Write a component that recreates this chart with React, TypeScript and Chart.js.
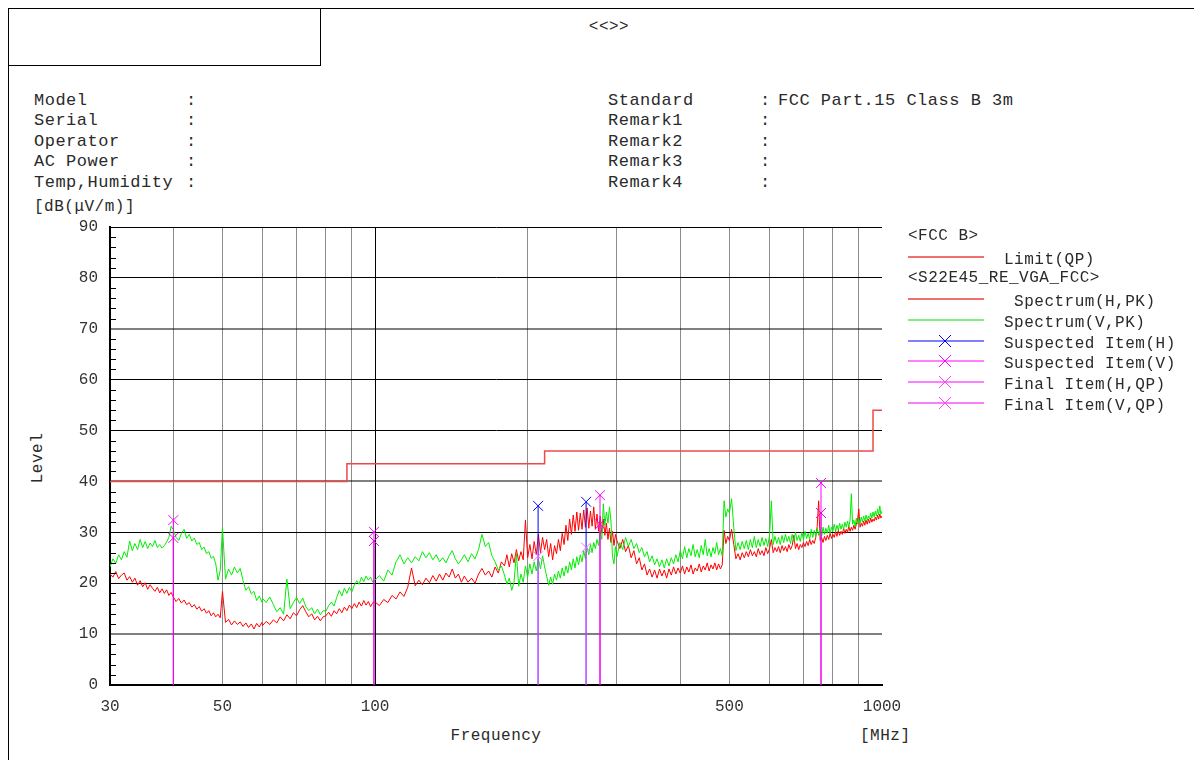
import React, { useEffect, useRef } from 'react';
import { Chart, registerables } from 'chart.js';

Chart.register(...registerables);

const FONT = '"Liberation Mono", "DejaVu Sans Mono", monospace';

// ---------- axis values ----------
const xGridValues = [30, 40, 50, 60, 70, 80, 90, 100, 200, 300, 400, 500, 600, 700, 800, 900, 1000];
const xLabelValues = [30, 50, 100, 500, 1000];
const yMin = 0;
const yMax = 90;
const yStep = 10;

// ---------- limit (FCC Part.15 Class B 3m, QP) ----------
const limitStartFreq = [30, 88, 216, 960];
const limitLevel = [40, 43.5, 46, 54];
const limitEndFreq = 1000;

// ---------- spectrum ----------
const freqMHz = [
  30, 30.4, 30.8, 31.2, 31.6, 32, 32.4, 32.8, 33.2, 33.6, 34, 34.4, 34.8, 35.2, 35.6, 36, 36.4, 36.8, 37.2, 37.6, 38, 38.4, 38.8, 39.2, 39.6,
  40, 40.5, 41, 41.5, 42, 42.5, 43, 43.5, 44, 44.5, 45, 45.5, 46, 46.5, 47, 47.5, 48, 48.5, 49, 49.5,
  50, 50.7, 51.4, 52.1, 52.8, 53.5, 54.2, 54.9, 55.6, 56.3, 57, 57.7, 58.4, 59.1, 59.8,
  60, 61, 62, 63, 64, 65, 66, 67, 68, 69, 70, 71, 72, 73, 74, 75, 76, 77, 78, 79,
  80, 81, 82, 83, 84, 85, 86, 87, 88, 89, 90, 91, 92, 93, 94, 95, 96, 97, 98, 99,
  100, 102, 104, 106, 108, 110, 112, 114, 116, 118, 120, 122, 124, 126, 128, 130, 132, 134, 136, 138, 140, 142, 144, 146, 148,
  150, 152.5, 155, 157.5, 160, 162.5, 165, 167.5, 170, 172.5, 175, 177.5,
  180, 182, 184, 186, 188, 190, 192, 194, 196, 198,
  200, 202, 204, 206, 208, 210, 212, 214, 216, 218,
  220, 222, 224, 226, 228, 230, 232, 234, 236, 238,
  240, 242, 244, 246, 248, 250, 252, 254, 256, 258,
  260, 262, 264, 266, 268, 270, 272, 274, 276, 278,
  280, 282, 284, 286, 288, 290, 292, 294, 296, 298,
  300, 304, 308, 312, 316, 320, 324, 328, 332, 336,
  340, 344, 348, 352, 356, 360, 364, 368, 372, 376,
  380, 384, 388, 392, 396, 400, 404, 408, 412, 416,
  420, 424, 428, 432, 436, 440, 444, 448, 452, 456,
  460, 464, 468, 472, 476, 480, 484, 488, 492, 496,
  500, 505, 510, 515, 520, 525, 530, 535, 540, 545,
  550, 555, 560, 565, 570, 575, 580, 585, 590, 595,
  600, 605, 610, 615, 620, 625, 630, 635, 640, 645,
  650, 655, 660, 665, 670, 675, 680, 685, 690, 695,
  700, 705, 710, 715, 720, 725, 730, 735, 740, 745,
  750, 755, 760, 765, 770, 775, 780, 785, 790, 795,
  800, 805, 810, 815, 820, 825, 830, 835, 840, 845,
  850, 855, 860, 865, 870, 875, 880, 885, 890, 895,
  900, 905, 910, 915, 920, 925, 930, 935, 940, 945,
  950, 955, 960, 965, 970, 975, 980, 985, 990, 995,
  1000,
];

const levelH = [
  21.8, 21.2, 22.3, 20.9, 21.6, 22.0, 20.6, 21.3, 20.2, 21.0, 19.6, 20.5, 19.3, 20.1, 18.8, 19.7, 19.0, 18.4, 19.2, 18.1, 18.9, 18.0, 18.7, 17.6, 18.2,
  17.3, 16.4, 17.0, 16.1, 16.7, 15.8, 16.2, 15.3, 15.8, 14.9, 15.4, 14.5, 15.0, 14.1, 14.6, 13.6, 14.2, 13.4, 13.9, 13.2,
  18.4, 12.3, 12.9, 11.8, 12.6, 11.9, 12.4, 11.5, 12.2, 11.3, 12.0, 11.0, 12.1, 11.4, 12.3,
  11.7, 12.5, 11.9, 12.8, 12.2, 13.4, 12.6, 13.8, 13.0, 14.2, 13.6, 14.8, 15.6, 14.4, 13.4, 14.0, 12.8, 13.5, 12.6, 13.4,
  13.6, 14.3, 13.5, 14.6, 14.0, 15.0, 14.2, 15.3, 14.6, 15.7, 15.0, 16.0, 15.2, 16.3, 15.5, 16.6, 15.7, 16.4, 15.4, 16.2,
  16.3, 15.6, 16.8, 16.2, 17.6, 16.9, 18.3, 17.4, 19.2, 23.0, 19.5, 20.6, 19.7, 21.0, 20.1, 21.5, 20.4, 21.8, 20.6, 22.0, 21.2, 22.8, 21.0, 21.8, 20.2,
  21.4, 20.2, 21.0, 20.0, 21.8, 22.9, 21.6, 22.4, 21.2, 23.2, 22.0, 24.2,
  23.4, 25.6, 23.2, 25.8, 24.0, 26.6, 24.4, 26.2, 24.6, 32.4,
  25.0, 27.6, 24.8, 28.2, 25.6, 29.6, 26.0, 29.0, 26.6, 28.6,
  25.2, 27.8, 24.6, 27.4, 25.8, 28.6, 26.4, 29.8, 27.6, 31.4,
  28.4, 32.6, 29.6, 33.4, 30.2, 34.0, 30.4, 33.8, 30.6, 34.4,
  31.0, 34.8, 30.8, 34.2, 31.2, 35.0, 30.6, 33.6, 30.2, 33.2,
  29.8, 32.6, 29.4, 31.8, 28.6, 30.8, 28.0, 30.2, 27.4, 29.6,
  28.4, 26.8, 28.6, 26.2, 27.4, 25.0, 26.4, 23.8, 25.0, 22.6,
  23.8, 21.6, 22.8, 21.2, 22.6, 21.0, 22.8, 21.4, 22.6, 21.0,
  22.8, 21.6, 23.2, 21.8, 23.0, 22.0, 23.4, 21.8, 23.2, 22.2,
  23.6, 21.8, 23.0, 22.4, 23.8, 22.2, 23.4, 22.6, 24.0, 22.4,
  23.6, 22.8, 24.0, 22.6, 23.8, 22.8, 23.6, 30.4, 27.8, 29.2,
  28.4, 30.6, 27.6, 24.8, 25.8, 24.6, 26.0, 25.0, 26.2, 25.2,
  26.6, 25.4, 26.2, 25.2, 26.8, 25.6, 26.4, 25.4, 27.0, 25.8,
  26.8, 28.6, 26.0, 27.0, 26.2, 27.2, 26.0, 27.4, 26.4, 27.2,
  26.2, 27.6, 26.6, 27.4, 29.4, 26.8, 27.8, 26.6, 27.6, 27.0,
  28.0, 27.2, 28.2, 27.4, 28.6, 27.6, 28.4, 27.8, 29.0, 31.2,
  36.2, 28.4, 29.0, 28.0, 29.2, 28.4, 29.4, 28.6, 29.8, 28.8,
  29.6, 29.0, 30.2, 29.2, 30.4, 29.4, 30.2, 29.6, 30.8, 29.8,
  30.6, 30.0, 31.2, 30.2, 31.0, 30.4, 31.4, 30.6, 31.6, 32.4,
  34.6, 31.0, 31.8, 31.2, 32.2, 31.4, 32.4, 31.6, 32.6, 31.8,
  32.8, 32.0, 32.6, 32.2, 33.0, 32.4, 33.4, 32.6, 33.6, 32.8,
  33.2,
];

const levelV = [
  23.2, 24.8, 23.9, 25.6, 24.6, 26.2, 25.1, 28.3, 26.4, 27.8, 26.6, 28.6, 27.0, 28.2, 26.8, 27.9, 27.2, 28.4, 27.0, 27.6, 26.9, 27.4, 28.1, 29.0, 31.2,
  30.5, 29.0, 28.4, 29.8, 30.6, 28.8, 29.6, 28.3, 28.9, 27.6, 28.0, 26.6, 27.1, 25.8, 26.2, 24.9, 25.3, 23.8, 20.6, 22.5,
  30.9, 20.8, 22.8, 21.6, 23.2, 22.0, 22.9, 20.5, 18.6, 19.3, 17.9, 18.4, 16.6, 17.5, 16.3,
  17.0, 16.2, 17.3, 15.8, 14.4, 15.2, 13.9, 20.8, 15.0, 16.2, 17.2, 16.0, 17.1, 15.4, 14.6, 15.2, 14.0, 14.9, 13.8, 14.6,
  14.5, 15.6, 16.3, 15.5, 17.2, 18.6, 17.5, 19.0, 18.0, 19.2, 18.3, 19.6, 20.5, 19.8, 21.2, 20.3, 21.4, 20.6, 21.2, 20.2,
  20.6, 21.5, 20.4, 22.6, 21.6, 24.2, 25.6, 23.8, 25.0, 24.0, 25.2, 24.4, 26.2, 25.0, 26.0, 24.6, 25.6, 24.2, 25.0, 24.0, 25.4, 26.4, 24.8, 23.8, 24.6,
  25.6, 24.2, 25.8, 24.8, 26.6, 29.6, 27.2, 28.0, 25.4, 24.2, 22.6, 23.4,
  21.6, 19.8, 21.0, 18.6, 20.2, 25.8, 19.4, 21.8, 20.2, 23.4,
  21.2, 23.8, 21.8, 24.2, 22.4, 24.8, 22.8, 25.4, 23.2, 21.4,
  19.6, 21.2, 19.8, 21.8, 20.6, 22.4, 21.0, 23.0, 21.4, 23.4,
  22.0, 24.2, 22.6, 24.8, 23.0, 25.2, 23.6, 25.6, 24.2, 26.4,
  24.8, 27.0, 25.6, 27.6, 26.0, 28.0, 26.8, 28.6, 27.4, 30.2,
  28.6, 35.6, 31.4, 34.0, 31.8, 35.0, 32.2, 25.2, 23.8, 27.2,
  25.2, 28.0, 26.6, 29.0, 27.2, 28.6, 26.8, 27.8, 26.0, 27.0,
  25.2, 26.2, 24.2, 25.4, 23.6, 24.8, 23.2, 24.6, 23.0, 24.8,
  23.4, 25.0, 23.8, 25.6, 24.2, 26.4, 24.8, 27.2, 25.0, 26.8,
  25.4, 27.6, 25.2, 26.6, 25.0, 27.4, 25.6, 28.6, 25.4, 26.8,
  25.2, 27.0, 25.8, 28.0, 25.6, 26.8, 25.4, 36.2, 33.0, 34.6,
  33.8, 36.6, 31.0, 26.4, 28.0, 26.6, 28.2, 26.8, 28.4, 26.6,
  28.6, 27.0, 29.2, 27.0, 28.6, 27.2, 29.0, 27.4, 28.8, 27.2,
  29.4, 36.2, 27.6, 29.2, 27.8, 29.0, 27.6, 29.4, 28.0, 29.6,
  28.2, 29.2, 27.8, 29.6, 28.2, 30.0, 28.4, 29.4, 28.2, 30.0,
  28.6, 30.2, 28.8, 29.8, 28.6, 30.6, 29.0, 30.4, 29.2, 30.8,
  29.4, 30.6, 29.2, 31.0, 29.6, 30.8, 29.8, 31.4, 29.8, 31.0,
  30.2, 31.6, 30.2, 31.4, 30.4, 31.8, 30.6, 31.6, 30.6, 32.0,
  31.0, 32.2, 31.0, 32.4, 37.6, 31.6, 32.4, 31.2, 32.8, 31.6,
  32.6, 31.8, 33.0, 32.0, 33.2, 32.2, 33.4, 32.4, 33.2, 32.6,
  33.8, 32.8, 34.0, 33.0, 34.2, 33.2, 34.6, 33.4, 35.2, 33.6,
  34.2,
];

// ---------- items ----------
const suspectedHFreq = [209.7, 260.8];
const suspectedHLevel = [35.2, 36.0];
const suspectedVFreq = [40.0, 99.5, 277.8, 758];
const suspectedVLevel = [32.4, 30.1, 37.3, 39.7];
const finalHFreq = [209.7, 260.8];
const finalHLevel = [25.3, 27.0];
const finalVFreq = [40.0, 99.5, 277.8, 758];
const finalVLevel = [28.9, 28.3, 31.6, 33.8];

// ---------- header text ----------
const infoLeft = ['Model', 'Serial', 'Operator', 'AC Power', 'Temp,Humidity'];
const infoRight = ['Standard', 'Remark1', 'Remark2', 'Remark3', 'Remark4'];
const infoRightValue = ['FCC Part.15 Class B 3m', '', '', '', ''];

const COLORS = {
  limit: '#f04848',
  specH: '#ff0000',
  specV: '#00ee00',
  suspH: '#0000ff',
  suspV: '#ff00ff',
  finalH: '#ff66ff',
  finalV: '#e800e8',
};

const legendRows = [
  { head: true, text: '<FCC B>' },
  { text: 'Limit(QP)', color: '#f07070', width: 2 },
  { head: true, text: '<S22E45_RE_VGA_FCC>' },
  { text: ' Spectrum(H,PK)', color: '#f07070', width: 2 },
  { text: 'Spectrum(V,PK)', color: '#00e000', width: 1 },
  { text: 'Suspected Item(H)', color: '#8080ff', width: 2, marker: '#0000ff' },
  { text: 'Suspected Item(V)', color: '#ff00ff', width: 1, marker: '#ff00ff' },
  { text: 'Final Item(H,QP)', color: '#ff80ff', width: 2, marker: '#ff40ff' },
  { text: 'Final Item(V,QP)', color: '#ee00ee', width: 1, marker: '#ff40ff' },
];

function stems(freqs: number[], levels: number[]) {
  const pts: any[] = [];
  freqs.forEach((f, i) => {
    pts.push({ x: f, y: 0 });
    pts.push({ x: f, y: levels[i], top: true });
    pts.push({ x: f, y: null });
  });
  return pts;
}

function itemDataset(label: string, freqs: number[], levels: number[], color: string, order: number) {
  return {
    label,
    data: stems(freqs, levels),
    borderColor: color,
    backgroundColor: color,
    borderWidth: 1,
    pointStyle: 'crossRot',
    pointRadius: (ctx: any) => (ctx.raw && ctx.raw.top ? 7 : 0),
    pointBorderColor: color,
    pointBorderWidth: 1,
    spanGaps: false,
    order,
  };
}

const minorTicks = {
  id: 'minorTicks',
  afterDraw(chart: any) {
    const y = chart.scales.y;
    const left = chart.chartArea.left;
    const ctx = chart.ctx;
    ctx.save();
    ctx.strokeStyle = '#000';
    ctx.lineWidth = 1;
    ctx.beginPath();
    for (let v = yMin; v <= yMax; v += 2) {
      if (v % yStep === 0) continue;
      const py = Math.round(y.getPixelForValue(v)) + 0.5;
      ctx.moveTo(left, py);
      ctx.lineTo(left + 6, py);
    }
    ctx.stroke();
    ctx.restore();
  },
};

const textStyle: any = {
  position: 'absolute',
  fontFamily: FONT,
  fontSize: 17,
  letterSpacing: '0.5px',
  lineHeight: '20px',
  color: '#2a2a2a',
  whiteSpace: 'pre',
};

export default function App() {
  const canvasRef = useRef<HTMLCanvasElement | null>(null);

  useEffect(() => {
    document.documentElement.style.overflow = 'hidden';
    const limitData = limitStartFreq.map((f, i) => ({ x: f, y: limitLevel[i] }));
    limitData.push({ x: limitEndFreq, y: limitLevel[limitLevel.length - 1] });
    const hData = freqMHz.map((f, i) => ({ x: f, y: levelH[i] }));
    const vData = freqMHz.map((f, i) => ({ x: f, y: levelV[i] }));

    const chart = new Chart(canvasRef.current as HTMLCanvasElement, {
      type: 'line',
      data: {
        datasets: [
          itemDataset('Final Item(V,QP)', finalVFreq, finalVLevel, COLORS.finalV, 0),
          itemDataset('Final Item(H,QP)', finalHFreq, finalHLevel, COLORS.finalH, 1),
          itemDataset('Suspected Item(V)', suspectedVFreq, suspectedVLevel, COLORS.suspV, 2),
          itemDataset('Suspected Item(H)', suspectedHFreq, suspectedHLevel, COLORS.suspH, 3),
          {
            label: 'Spectrum(V,PK)',
            data: vData,
            borderColor: COLORS.specV,
            borderWidth: 1,
            pointRadius: 0,
            order: 5,
          },
          {
            label: 'Spectrum(H,PK)',
            data: hData,
            borderColor: COLORS.specH,
            borderWidth: 1,
            pointRadius: 0,
            order: 6,
          },
          {
            label: 'Limit(QP)',
            data: limitData,
            borderColor: COLORS.limit,
            borderWidth: 1.5,
            pointRadius: 0,
            stepped: true,
            order: 7,
          },
        ] as any,
      },
      options: {
        responsive: false,
        maintainAspectRatio: false,
        animation: false,
        events: [],
        layout: { padding: { left: 0, top: 18, right: 127, bottom: 0 } },
        plugins: { legend: { display: false }, tooltip: { enabled: false } },
        scales: {
          x: {
            type: 'logarithmic',
            min: 30,
            max: 1000,
            afterBuildTicks: (s: any) => {
              s.ticks = xGridValues.map((v) => ({ value: v }));
            },
            afterFit: (s: any) => {
              s.height = 54;
              s.paddingLeft = 0;
              s.paddingRight = 0;
            },
            ticks: {
              autoSkip: false,
              maxRotation: 0,
              minRotation: 0,
              padding: 12,
              color: '#333',
              font: { family: FONT, size: 16 },
              callback: (v: any) => (xLabelValues.includes(Number(v)) ? String(v) : ''),
            },
            grid: {
              drawTicks: false,
              color: (ctx: any) => {
                const v = ctx.tick ? ctx.tick.value : 0;
                if (v === 100) return '#000';
                if (v === 1000 || v === 30) return 'rgba(0,0,0,0)';
                return '#8c8c8c';
              },
              lineWidth: 1,
            },
            border: { color: '#000', width: 2 },
          },
          y: {
            type: 'linear',
            min: yMin,
            max: yMax,
            afterFit: (s: any) => {
              s.width = 101;
              s.paddingTop = 0;
              s.paddingBottom = 0;
            },
            ticks: {
              stepSize: yStep,
              padding: 12,
              color: '#333',
              font: { family: FONT, size: 16 },
            },
            grid: {
              drawTicks: false,
              color: (ctx: any) => {
                const v = ctx.tick ? ctx.tick.value : 0;
                return v === 10 || v === 40 || v === 70 ? 'rgba(0,0,0,0.5)' : '#000';
              },
              lineWidth: (ctx: any) => {
                const v = ctx.tick ? ctx.tick.value : 0;
                return v === 10 || v === 40 || v === 70 ? 2 : 1;
              },
            },
            border: { color: '#000', width: 2 },
          },
        },
      } as any,
      plugins: [minorTicks],
    });
    return () => chart.destroy();
  }, []);

  return (
    <div
      style={{
        position: 'relative',
        width: 1194,
        height: 752,
        borderTop: '1px solid #000',
        borderLeft: '1px solid #000',
        boxSizing: 'border-box',
        background: '#fff',
        overflow: 'hidden',
      }}
    >
      <div
        style={{
          position: 'absolute',
          left: 0,
          top: 0,
          width: 312,
          height: 57,
          borderRight: '1px solid #000',
          borderBottom: '1px solid #000',
          boxSizing: 'border-box',
        }}
      />
      <div style={{ ...textStyle, left: 560, width: 80, textAlign: 'center', top: 8, fontSize: 16 }}>{'<<>>'}</div>

      {infoLeft.map((t, i) => (
        <React.Fragment key={'l' + t}>
          <div style={{ ...textStyle, left: 25, top: 81.5 + i * 20.5 }}>{t}</div>
          <div style={{ ...textStyle, left: 177, top: 81.5 + i * 20.5 }}>:</div>
        </React.Fragment>
      ))}
      {infoRight.map((t, i) => (
        <React.Fragment key={'r' + t}>
          <div style={{ ...textStyle, left: 599, top: 81.5 + i * 20.5 }}>{t}</div>
          <div style={{ ...textStyle, left: 751, top: 81.5 + i * 20.5 }}>:</div>
          <div style={{ ...textStyle, left: 769, top: 81.5 + i * 20.5 }}>{infoRightValue[i]}</div>
        </React.Fragment>
      ))}

      <div style={{ ...textStyle, left: 25, top: 188, fontSize: 16 }}>{'[dB(μV/m)]'}</div>
      <div
        style={{
          ...textStyle,
          fontSize: 16,
          left: 29 - 30,
          top: 449 - 10,
          width: 60,
          textAlign: 'center',
          transform: 'rotate(-90deg)',
        }}
      >
        Level
      </div>
      <div style={{ ...textStyle, fontSize: 16, left: 437, width: 100, textAlign: 'center', top: 717 }}>Frequency</div>
      <div style={{ ...textStyle, fontSize: 16, left: 851, top: 717 }}>[MHz]</div>

      <canvas
        ref={canvasRef}
        width={1000}
        height={530}
        style={{ position: 'absolute', left: 0, top: 200, width: 1000, height: 530 }}
      />

      {legendRows.map((r: any, i) => {
        const cy = 227 + i * 20.9;
        if (r.head) {
          return (
            <div key={i} style={{ ...textStyle, fontSize: 16, left: 899, top: cy - 10 }}>
              {r.text}
            </div>
          );
        }
        return (
          <React.Fragment key={i}>
            <svg
              width={76}
              height={14}
              style={{ position: 'absolute', left: 899, top: cy - 7 }}
            >
              <line x1={0} y1={7} x2={76} y2={7} stroke={r.color} strokeWidth={r.width} />
              {r.marker ? (
                <g stroke={r.marker} strokeWidth={1}>
                  <line x1={31} y1={1} x2={43} y2={13} />
                  <line x1={43} y1={1} x2={31} y2={13} />
                </g>
              ) : null}
            </svg>
            <div style={{ ...textStyle, fontSize: 16, left: 995, top: cy - 7 }}>{r.text}</div>
          </React.Fragment>
        );
      })}
    </div>
  );
}
